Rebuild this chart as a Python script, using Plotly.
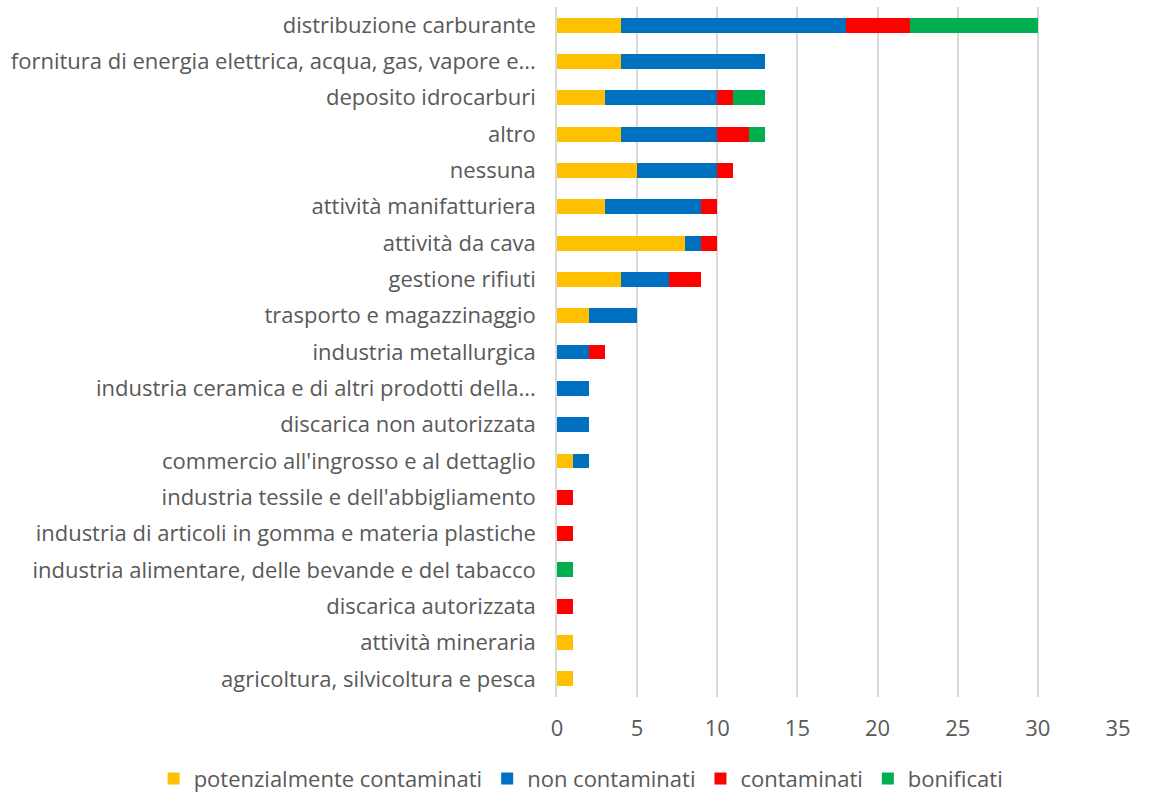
import plotly.graph_objects as go

categories = [
    "distribuzione carburante",
    "fornitura di energia elettrica, acqua, gas, vapore e...",
    "deposito idrocarburi",
    "altro",
    "nessuna",
    "attività manifatturiera",
    "attività da cava",
    "gestione rifiuti",
    "trasporto e magazzinaggio",
    "industria metallurgica",
    "industria ceramica e di altri prodotti della...",
    "discarica non autorizzata",
    "commercio all'ingrosso e al dettaglio",
    "industria tessile e dell'abbigliamento",
    "industria di articoli in gomma e materia plastiche",
    "industria alimentare, delle bevande e del tabacco",
    "discarica autorizzata",
    "attività mineraria",
    "agricoltura, silvicoltura e pesca",
]
potenzialmente_contaminati = [4, 4, 3, 4, 5, 3, 8, 4, 2, 0, 0, 0, 1, 0, 0, 0, 0, 1, 1]
non_contaminati = [14, 9, 7, 6, 5, 6, 1, 3, 3, 2, 2, 2, 1, 0, 0, 0, 0, 0, 0]
contaminati = [4, 0, 1, 2, 1, 1, 1, 2, 0, 1, 0, 0, 0, 1, 1, 0, 1, 0, 0]
bonificati = [8, 0, 2, 1, 0, 0, 0, 0, 0, 0, 0, 0, 0, 0, 0, 1, 0, 0, 0]

series_names = ["potenzialmente contaminati", "non contaminati", "contaminati", "bonificati"]
series_values = [potenzialmente_contaminati, non_contaminati, contaminati, bonificati]
series_colors = ["#FFC000", "#0070C0", "#FF0000", "#00B050"]

fig = go.Figure()
for name, vals, color in zip(series_names, series_values, series_colors):
    fig.add_trace(go.Bar(
        y=categories, x=vals, name=name, orientation="h",
        marker=dict(color=color, line=dict(width=0)),
    ))

font_family = "Open Sans, Lato, sans-serif"
fs = 22
fig.update_layout(
    barmode="stack",
    bargap=0.59,
    width=1157, height=793,
    margin=dict(l=557, r=39, t=7, b=96, autoexpand=False),
    paper_bgcolor="white", plot_bgcolor="white",
    font=dict(family=font_family, size=fs, color="#595959"),
    showlegend=True,
    legend=dict(orientation="h", x=-0.719, xanchor="left", y=-0.088, yanchor="top",
                font=dict(size=fs, color="#595959"), traceorder="normal",
                itemwidth=30, bgcolor="rgba(0,0,0,0)"),
    xaxis=dict(range=[0, 35], dtick=5, showgrid=True, gridcolor="#D9D9D9", gridwidth=1.5,
               zeroline=False, showline=False, ticks="", ticklabelstandoff=16,
               automargin=False,
               tickfont=dict(size=fs, color="#595959")),
    yaxis=dict(autorange="reversed", showgrid=False, zeroline=False,
               showline=True, linecolor="#D9D9D9", linewidth=1.5,
               ticks="", ticklabelstandoff=15, automargin=False,
               tickfont=dict(size=fs, color="#595959")),
)

fig.write_html("out.html", config={"displayModeBar": False},
               post_script="document.body.style.margin='0';document.body.style.overflow='hidden';")
